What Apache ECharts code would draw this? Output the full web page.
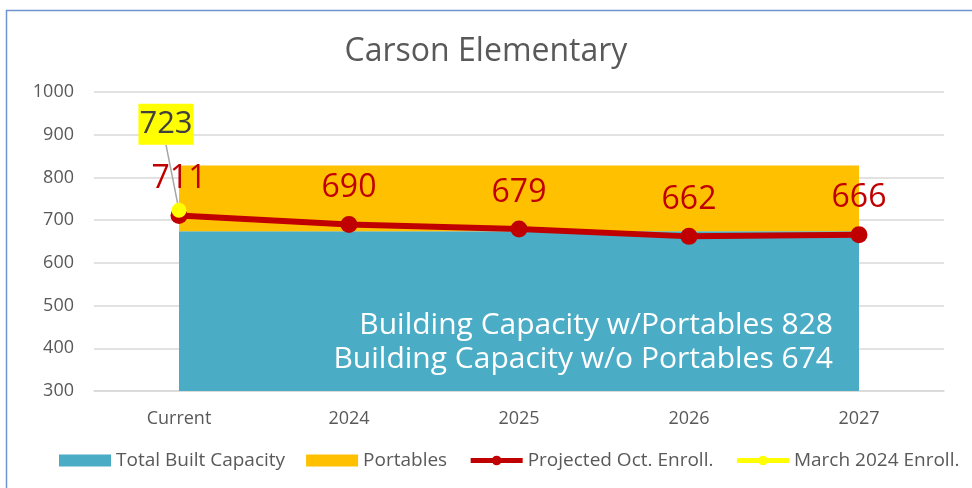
<!DOCTYPE html>
<html>
<head>
<meta charset="utf-8">
<script src="https://cdn.jsdelivr.net/npm/echarts@6/dist/echarts.min.js"></script>
<style>
  html, body { margin: 0; padding: 0; background: #fff; }
  #chart { width: 972px; height: 488px; }
</style>
</head>
<body>
<div id="chart"></div>
<script>
// data
var years = ['Current', '2024', '2025', '2026', '2027'];
var builtCapacity = [674, 674, 674, 674, 674];
var portables = [154, 154, 154, 154, 154];
var projected = [711, 690, 679, 662, 666];
var march2024 = [723, null, null, null, null];
var yTicks = { min: 300, max: 1000, step: 100 };

var font = '"Open Sans", "Noto Sans", sans-serif';
var grey = '#595959';

var chart = echarts.init(document.getElementById('chart'));

var option = {
    backgroundColor: '#fff',
    textStyle: { fontFamily: font },
    title: {
        text: 'Carson Elementary',
        left: 'center',
        top: 31,
        textStyle: { fontFamily: font, fontSize: 32, fontWeight: 'normal', color: grey }
    },
    grid: { left: 94, right: 28, top: 92, bottom: 97 },
    legend: {
        bottom: 13,
        left: 54,
        itemWidth: 52,
        itemHeight: 12,
        itemGap: 21,
        textStyle: { fontFamily: font, fontSize: 19, color: grey },
        data: [
            { name: 'Total Built Capacity', icon: 'rect' },
            { name: 'Portables', icon: 'rect' },
            { name: 'Projected Oct. Enroll.', lineStyle: { width: 5 } },
            { name: 'March 2024 Enroll.', lineStyle: { width: 5 } }
        ]
    },
    xAxis: {
        type: 'category',
        data: years,
        boundaryGap: true,
        axisLine: { lineStyle: { color: '#d9d9d9', width: 1.5 } },
        axisTick: { show: false },
        axisLabel: { fontFamily: font, fontSize: 18, color: grey, margin: 19 }
    },
    yAxis: {
        type: 'value',
        min: yTicks.min,
        max: yTicks.max,
        interval: yTicks.step,
        axisLine: { show: false },
        axisTick: { show: false },
        axisLabel: {
            fontFamily: font, fontSize: 18, color: grey, margin: 20,
            formatter: function (v) { return String(v); }
        },
        splitLine: { lineStyle: { color: '#d9d9d9', width: 1.5 } }
    },
    graphic: [
        {
            type: 'rect',
            left: 4, top: 8,
            shape: { width: 1000, height: 500 },
            style: { fill: 'none', stroke: '#6f93cf', lineWidth: 1.5 },
            silent: true
        },
        {
            type: 'text',
            right: 139, top: 308,
            z: 100,
            style: {
                text: 'Building Capacity w/Portables 828\nBuilding Capacity w/o Portables 674',
                fill: '#fff',
                font: '30px ' + font,
                textAlign: 'right',
                lineHeight: 34
            }
        }
    ],
    series: [
        {
            name: 'Total Built Capacity',
            type: 'line',
            stack: 'cap',
            data: builtCapacity,
            symbol: 'none',
            lineStyle: { width: 0 },
            itemStyle: { color: '#4bacc6' },
            areaStyle: { color: '#4bacc6', opacity: 1 },
            z: 1
        },
        {
            name: 'Portables',
            type: 'line',
            stack: 'cap',
            data: portables,
            symbol: 'none',
            lineStyle: { width: 0 },
            itemStyle: { color: '#ffc000' },
            areaStyle: { color: '#ffc000', opacity: 1 },
            z: 1
        },
        {
            name: 'Projected Oct. Enroll.',
            type: 'line',
            data: projected,
            symbol: 'circle',
            symbolSize: 17,
            lineStyle: { color: '#c00000', width: 6 },
            itemStyle: { color: '#c00000' },
            label: {
                show: true,
                position: 'top',
                distance: 12,
                fontFamily: font,
                fontSize: 32,
                color: '#c00000'
            },
            z: 3
        },
        {
            name: 'March 2024 Enroll.',
            type: 'line',
            data: march2024,
            symbol: 'circle',
            symbolSize: 15,
            lineStyle: { color: '#ffff00', width: 5 },
            itemStyle: { color: '#ffff00' },
            label: {
                show: true,
                position: 'inside',
                fontFamily: font,
                fontSize: 31,
                color: '#404040',
                backgroundColor: '#ffff00',
                padding: [6, 1, 4, 1]
            },
            labelLayout: { dx: -13, dy: -86 },
            labelLine: { show: true, lineStyle: { color: '#a6a6a6', width: 1.5 } },
            z: 4
        }
    ]
};

chart.setOption(option);
</script>
</body>
</html>
